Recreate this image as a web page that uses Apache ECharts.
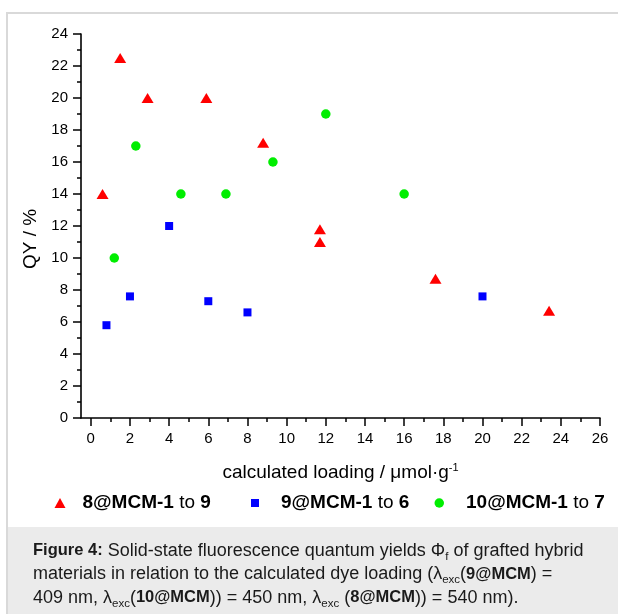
<!DOCTYPE html>
<html>
<head>
<meta charset="utf-8">
<script src="https://cdn.jsdelivr.net/npm/echarts@6/dist/echarts.min.js"></script>
<style>
  html, body { margin: 0; padding: 0; background: #fff; }
  #chart { width: 618px; height: 614px; }
</style>
</head>
<body>
<div id="chart"></div>
<script>
const FONT = '"Liberation Sans", Arial, Helvetica, sans-serif';

// 8@MCM-1 to 9 (triangles)
const dye8Loading = [0.6, 1.5, 2.9, 5.9, 8.8, 11.7, 11.7, 17.6, 23.4];
const dye8QY      = [14.0, 22.5, 20.0, 20.0, 17.2, 11.8, 11.0, 8.7, 6.7];

// 9@MCM-1 to 6 (squares)
const dye9Loading = [0.8, 2.0, 4.0, 6.0, 8.0, 20.0];
const dye9QY      = [5.8, 7.6, 12.0, 7.3, 6.6, 7.6];

// 10@MCM-1 to 7 (circles)
const dye10Loading = [1.2, 2.3, 4.6, 6.9, 9.3, 12.0, 16.0];
const dye10QY      = [10.0, 17.0, 14.0, 14.0, 16.0, 19.0, 14.0];

const seriesNames = ['8@MCM-1 to 9', '9@MCM-1 to 6', '10@MCM-1 to 7'];

// axis ticks
const xMajorTicks = [0, 2, 4, 6, 8, 10, 12, 14, 16, 18, 20, 22, 24, 26];
const xMinorTicks = [1, 3, 5, 7, 9, 11, 13, 15, 17, 19, 21, 23, 25];

const captionLines = [
  '{b|Figure 4:} Solid-state fluorescence quantum yields Φ{sub|f} of grafted hybrid',
  'materials in relation to the calculated dye loading (λ{sub|exc}({b|9@MCM}) =',
  '409 nm, λ{sub|exc}({b|10@MCM})) = 450 nm, λ{sub|exc} ({b|8@MCM})) = 540 nm).'
];

const zip = (xs, ys) => xs.map((x, i) => [x, ys[i]]);

const axisLineStyle = { color: '#000', width: 1.6 };
const tickLineStyle = { color: '#000', width: 1.5 };

function legendFor(idx, left, iconW, iconH, textPad) {
  return {
    data: [seriesNames[idx]],
    left: left,
    top: 493,
    padding: 0,
    itemWidth: iconW,
    itemHeight: iconH,
    selectedMode: false,
    formatter: (name) => {
      const parts = name.split(' to ');
      return '{b|' + parts[0] + '} {n|to} {b|' + parts[1] + '}';
    },
    textStyle: {
      fontFamily: FONT, fontSize: 19, color: '#000', lineHeight: 20,
      padding: [0, 0, 0, textPad],
      rich: {
        b: { fontFamily: FONT, fontSize: 19, fontWeight: 'bold', color: '#000', lineHeight: 20 },
        n: { fontFamily: FONT, fontSize: 19, fontWeight: 'normal', color: '#000', lineHeight: 20 }
      }
    }
  };
}

const chart = echarts.init(document.getElementById('chart'), null, { renderer: 'canvas' });

chart.setOption({
  backgroundColor: '#fff',
  animation: false,
  grid: { left: 81, right: 18, top: 34, bottom: 196, containLabel: false, outerBoundsMode: 'none' },
  legend: [
    legendFor(0, 54.5, 11, 10, 12),
    legendFor(1, 251, 8, 8, 17),
    legendFor(2, 434.5, 9.5, 9.5, 17)
  ],
  xAxis: [
    {
      type: 'value', min: -0.5, max: 26,
      axisLine: { show: true, onZero: false, lineStyle: axisLineStyle },
      axisTick: { show: true, inside: false, length: 8, customValues: xMajorTicks, lineStyle: tickLineStyle },
      axisLabel: { show: true, customValues: xMajorTicks, margin: 13, fontSize: 15, color: '#000', fontFamily: FONT },
      splitLine: { show: false },
      name: 'calculated loading / μmol·g{sup|-1}',
      nameLocation: 'middle',
      nameGap: 44,
      nameMoveOverlap: false,
      nameTextStyle: {
        fontFamily: FONT, fontSize: 19, color: '#000', lineHeight: 22,
        rich: {
          sup: { fontFamily: FONT, fontSize: 11, color: '#000', lineHeight: 11, verticalAlign: 'top' }
        }
      }
    },
    {
      type: 'value', min: -0.5, max: 26, position: 'bottom',
      axisLine: { show: false },
      axisTick: { show: true, inside: false, length: 4, customValues: xMinorTicks, lineStyle: tickLineStyle },
      axisLabel: { show: false },
      splitLine: { show: false }
    }
  ],
  yAxis: {
    type: 'value', min: 0, max: 24, interval: 2,
    axisLine: { show: true, onZero: false, lineStyle: axisLineStyle },
    axisTick: { show: true, inside: false, length: 8, lineStyle: tickLineStyle },
    minorTick: { show: true, splitNumber: 2, length: 4, lineStyle: tickLineStyle },
    axisLabel: { margin: 13, fontSize: 15, color: '#000', fontFamily: FONT },
    splitLine: { show: false },
    minorSplitLine: { show: false },
    name: 'QY / %',
    nameLocation: 'middle',
    nameGap: 41,
    nameMoveOverlap: false,
    nameTextStyle: { fontFamily: FONT, fontSize: 19, color: '#000', padding: [0, 26, 0, 0] }
  },
  series: [
    {
      name: seriesNames[0], type: 'scatter', xAxisIndex: 0,
      symbol: 'triangle', symbolSize: [12, 10],
      itemStyle: { color: '#ff0000', opacity: 1 },
      data: zip(dye8Loading, dye8QY)
    },
    {
      name: seriesNames[1], type: 'scatter', xAxisIndex: 0,
      symbol: 'rect', symbolSize: 8,
      itemStyle: { color: '#0000ff', opacity: 1 },
      data: zip(dye9Loading, dye9QY)
    },
    {
      name: seriesNames[2], type: 'scatter', xAxisIndex: 0,
      symbol: 'circle', symbolSize: 9.5,
      itemStyle: { color: '#00ee00', opacity: 1 },
      data: zip(dye10Loading, dye10QY)
    }
  ],
  graphic: [
    {
      type: 'rect', silent: true, z: -10,
      shape: { x: 7, y: 527, width: 620, height: 100 },
      style: { fill: '#ebebeb' }
    },
    {
      type: 'polyline', silent: true,
      shape: { points: [[7, 620], [7, 13], [620, 13]] },
      style: { stroke: '#d9d9d9', lineWidth: 2, fill: null }
    },
    {
      type: 'text', silent: true,
      x: 33, y: 539,
      style: {
        text: captionLines.join('\n'),
        fontFamily: FONT, fontSize: 18, fill: '#1a1a1a', lineHeight: 23.5,
        rich: {
          b: { fontFamily: FONT, fontSize: 16.5, fontWeight: 'bold', fill: '#1a1a1a', lineHeight: 23.5 },
          sub: { fontFamily: FONT, fontSize: 11.5, fill: '#1a1a1a', lineHeight: 13, verticalAlign: 'bottom' }
        }
      }
    }
  ]
});
</script>
</body>
</html>
